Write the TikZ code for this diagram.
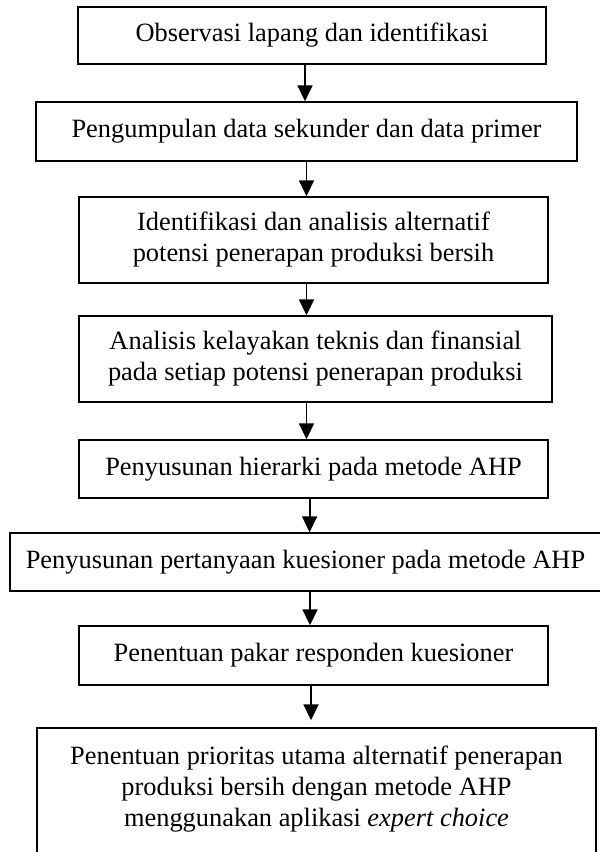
\documentclass[tikz,border=0pt]{standalone}
\usepackage{fontspec}
\setmainfont{Liberation Serif}
\usetikzlibrary{arrows.meta}

\begin{document}
\begin{tikzpicture}[x=1pt, y=1pt,
    kotak/.style={draw, line width=1.4pt, inner sep=0pt, align=center,
      font=\fontsize{26.4pt}{31pt}\selectfont},
    panah/.style={line width=1.8pt, -{Triangle[width=15pt, length=16pt]}}]
  \useasboundingbox (0,0) rectangle (600,-852);
  \clip (0,0) rectangle (600,-852);

  % langkah penelitian
  \node[kotak, minimum width=468pt, minimum height=57pt] (s1) at (312,-35.5)
    {Observasi lapang dan identifikasi};
  \node[kotak, minimum width=541pt, minimum height=59pt] (s2) at (306.5,-131.5)
    {Pengumpulan data sekunder dan data primer};
  \node[kotak, minimum width=469pt, minimum height=86pt] (s3) at (313.5,-240)
    {Identifikasi dan analisis alternatif\\potensi penerapan produksi bersih};
  \node[kotak, minimum width=473pt, minimum height=86pt] (s4) at (315.5,-359)
    {Analisis kelayakan teknis dan finansial\\pada setiap potensi penerapan produksi};
  \node[kotak, minimum width=469pt, minimum height=58pt] (s5) at (313.5,-469)
    {Penyusunan hierarki pada metode AHP};
  \node[kotak, minimum width=591pt, minimum height=58pt] (s6) at (305.5,-562)
    {Penyusunan pertanyaan kuesioner pada metode AHP};
  \node[kotak, minimum width=469pt, minimum height=59pt] (s7) at (313.5,-655.5)
    {Penentuan pakar responden kuesioner};
  \node[kotak, minimum width=559pt, minimum height=147pt] (s8) at (316.5,-801.5)
    {Penentuan prioritas utama alternatif penerapan\\produksi bersih dengan metode AHP\\menggunakan aplikasi \textit{expert choice}\\ \mbox{}};

  % panah antar langkah
  \foreach \a/\b/\px in {s1/s2/305, s2/s3/306.5, s3/s4/306.5, s4/s5/306.5, s5/s6/309.6, s6/s7/310} {
      \draw[panah] (\a.south -| \px,0) -- (\b.north -| \px,0);
    }
  \draw[panah, shorten >=7pt] (s7.south -| 311,0) -- (s8.north -| 311,0);
\end{tikzpicture}
\end{document}
